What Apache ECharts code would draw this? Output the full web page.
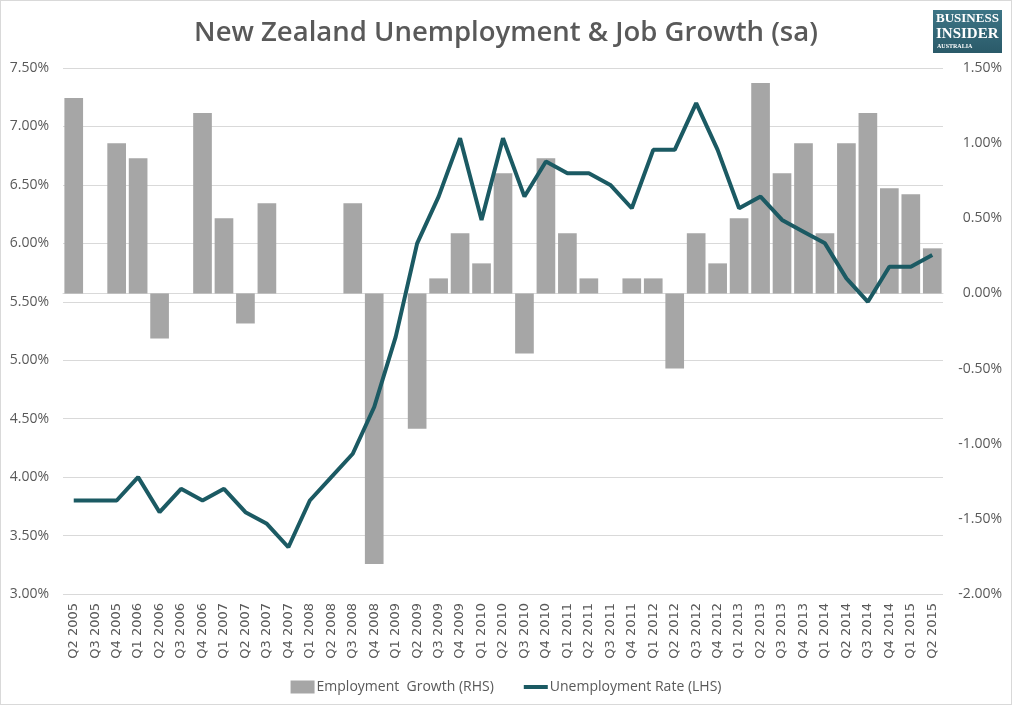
<!DOCTYPE html>
<html>
<head>
<meta charset="utf-8">
<script src="https://cdn.jsdelivr.net/npm/echarts@6/dist/echarts.min.js"></script>
<style>
html,body{margin:0;padding:0;background:#fff;}
#c{width:1012px;height:705px;box-sizing:border-box;border:1px solid #d9d9d9;}
</style>
</head>
<body>
<div id="c"></div>
<script>
const quarters = ["Q2 2005","Q3 2005","Q4 2005","Q1 2006","Q2 2006","Q3 2006","Q4 2006","Q1 2007","Q2 2007","Q3 2007","Q4 2007","Q1 2008","Q2 2008","Q3 2008","Q4 2008","Q1 2009","Q2 2009","Q3 2009","Q4 2009","Q1 2010","Q2 2010","Q3 2010","Q4 2010","Q1 2011","Q2 2011","Q3 2011","Q4 2011","Q1 2012","Q2 2012","Q3 2012","Q4 2012","Q1 2013","Q2 2013","Q3 2013","Q4 2013","Q1 2014","Q2 2014","Q3 2014","Q4 2014","Q1 2015","Q2 2015"];
const employmentGrowth = [1.3,0,1.0,0.9,-0.3,0,1.2,0.5,-0.2,0.6,0,0,0,0.6,-1.8,0,-0.9,0.1,0.4,0.2,0.8,-0.4,0.9,0.4,0.1,0,0.1,0.1,-0.5,0.4,0.2,0.5,1.4,0.8,1.0,0.4,1.0,1.2,0.7,0.66,0.3];
const unemploymentRate = [3.8,3.8,3.8,4.0,3.7,3.9,3.8,3.9,3.7,3.6,3.4,3.8,4.0,4.2,4.6,5.2,6.0,6.4,6.9,6.2,6.9,6.4,6.7,6.6,6.6,6.5,6.3,6.8,6.8,7.2,6.8,6.3,6.4,6.2,6.1,6.0,5.7,5.5,5.8,5.8,5.9];
const seriesNames = ["Employment  Growth (RHS)","Unemployment Rate (LHS)"];
const titleText = "New Zealand Unemployment & Job Growth (sa)";

const chart = echarts.init(document.getElementById('c'));
const txt = '#595959';
const lineColor = '#1b5a63';
chart.setOption({
  animation:false,
  title:{text:titleText,left:'center',top:13,textStyle:{color:txt,fontSize:27.5,fontWeight:600,fontFamily:'Open Sans'}},
  grid:{left:62,right:68,top:67,bottom:110},
  legend:{top:674,left:'center',itemGap:30,itemWidth:24,itemHeight:13,
    textStyle:{color:txt,fontSize:14,fontFamily:'Open Sans',padding:[0,0,0,-3]},
    data:[{name:seriesNames[0],icon:'rect'},{name:seriesNames[1],icon:'path://M0,0h24v4h-24z'}]},
  xAxis:{type:'category',data:quarters,
    axisLine:{lineStyle:{color:'#d9d9d9'}},axisTick:{show:false},
    axisLabel:{interval:0,rotate:90,color:txt,fontSize:13,fontFamily:'DejaVu Sans',margin:9}},
  yAxis:[
    {type:'value',min:3,max:7.5,interval:0.5,position:'left',
      axisLabel:{formatter:v=>v.toFixed(2)+'%',color:txt,fontSize:14,fontFamily:'Open Sans',margin:14},
      splitLine:{lineStyle:{color:'#d9d9d9'}},axisLine:{show:false},axisTick:{show:false}},
    {type:'value',min:-2,max:1.5,interval:0.5,position:'right',
      axisLabel:{formatter:v=>v.toFixed(2)+'%',color:txt,fontSize:14,fontFamily:'Open Sans',margin:59,align:'right'},
      splitLine:{show:false},axisLine:{show:false},axisTick:{show:false}}
  ],
  series:[
    {name:seriesNames[0],type:'bar',yAxisIndex:1,data:employmentGrowth,barCategoryGap:'13%',itemStyle:{color:'#a6a6a6'}},
    {name:seriesNames[1],type:'line',yAxisIndex:0,data:unemploymentRate,showSymbol:false,symbol:'none',
      lineStyle:{color:lineColor,width:4},itemStyle:{color:lineColor}}
  ],
  graphic:[
    {type:'rect',left:932,top:9,shape:{width:69,height:43},style:{fill:new echarts.graphic.LinearGradient(0,0,0,1,[{offset:0,color:'#3d7586'},{offset:1,color:'#2a5a69'}])}},
    {type:'text',left:935,top:11,style:{text:'BUSINESS',fill:'#fff',font:'bold 13px "Liberation Serif"'}},
    {type:'text',left:935,top:26,style:{text:'INSIDER',fill:'#fff',font:'bold 15px "Liberation Serif"'}},
    {type:'text',left:936,top:42,style:{text:'AUSTRALIA',fill:'#fff',font:'bold 6px "Liberation Serif"'}}
  ]
});
</script>
</body>
</html>
